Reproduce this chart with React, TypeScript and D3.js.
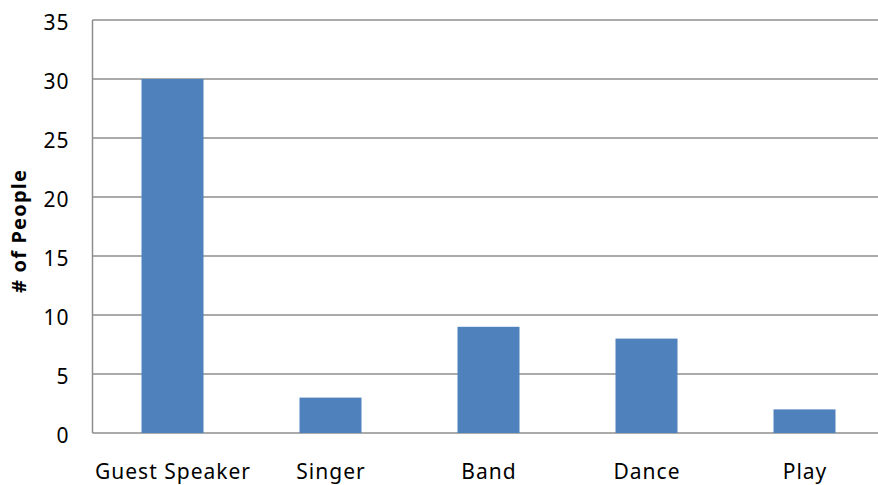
import React from "react";
import * as d3 from "d3";

const categories: string[] = ["Guest Speaker", "Singer", "Band", "Dance", "Play"];
const people: number[] = [30, 3, 9, 8, 2];
const yTicks: number[] = [0, 5, 10, 15, 20, 25, 30, 35];
const yTitle = "# of People";

const W = 878;
const H = 485;
const FONT = "'Noto Sans', 'Open Sans', sans-serif";

export default function App() {
  const left = 92.5;
  const right = 883.5;
  const top = 20;
  const bottom = 433;

  const x = d3
    .scaleBand<string>()
    .domain(categories)
    .range([left + 1, right])
    .paddingInner(0.6076)
    .paddingOuter(0.3038);

  const y = d3.scaleLinear().domain([0, 35]).range([bottom, top]);

  return (
    <svg
      width={W}
      height={H}
      style={{ position: "absolute", left: 0, top: 0, background: "#fff" }}
    >
      {/* horizontal gridlines */}
      {yTicks.map((t) => (
        <line
          key={`g${t}`}
          x1={left}
          x2={W}
          y1={y(t)}
          y2={y(t)}
          stroke="#8e8e8e"
          strokeWidth={1.5}
        />
      ))}
      {/* value axis line */}
      <line x1={left} x2={left} y1={top} y2={bottom} stroke="#8e8e8e" strokeWidth={1.5} />

      {/* bars */}
      {categories.map((c, i) => (
        <rect
          key={c}
          x={x(c)}
          y={y(people[i])}
          width={x.bandwidth()}
          height={y(0) - y(people[i])}
          fill="#4f81bd"
        />
      ))}

      {/* y tick labels */}
      {yTicks.map((t) => (
        <text
          key={`t${t}`}
          x={69.5}
          y={y(t) + 4}
          textAnchor="end"
          dominantBaseline="middle"
          fontFamily={FONT}
          fontSize={21}
          letterSpacing={1}
          fill="#000"
        >
          {t}
        </text>
      ))}

      {/* category labels */}
      {categories.map((c) => (
        <text
          key={`c${c}`}
          x={(x(c) ?? 0) + x.bandwidth() / 2 + 0.5}
          y={479}
          textAnchor="middle"
          fontFamily={FONT}
          fontSize={21}
          letterSpacing={1}
          fill="#000"
        >
          {c}
        </text>
      ))}

      {/* y axis title */}
      <text
        transform={`translate(26, 231) rotate(-90)`}
        textAnchor="middle"
        fontFamily={FONT}
        fontSize={20}
        fontWeight="bold"
        letterSpacing={1.2}
        fill="#000"
      >
        {yTitle}
      </text>
    </svg>
  );
}
